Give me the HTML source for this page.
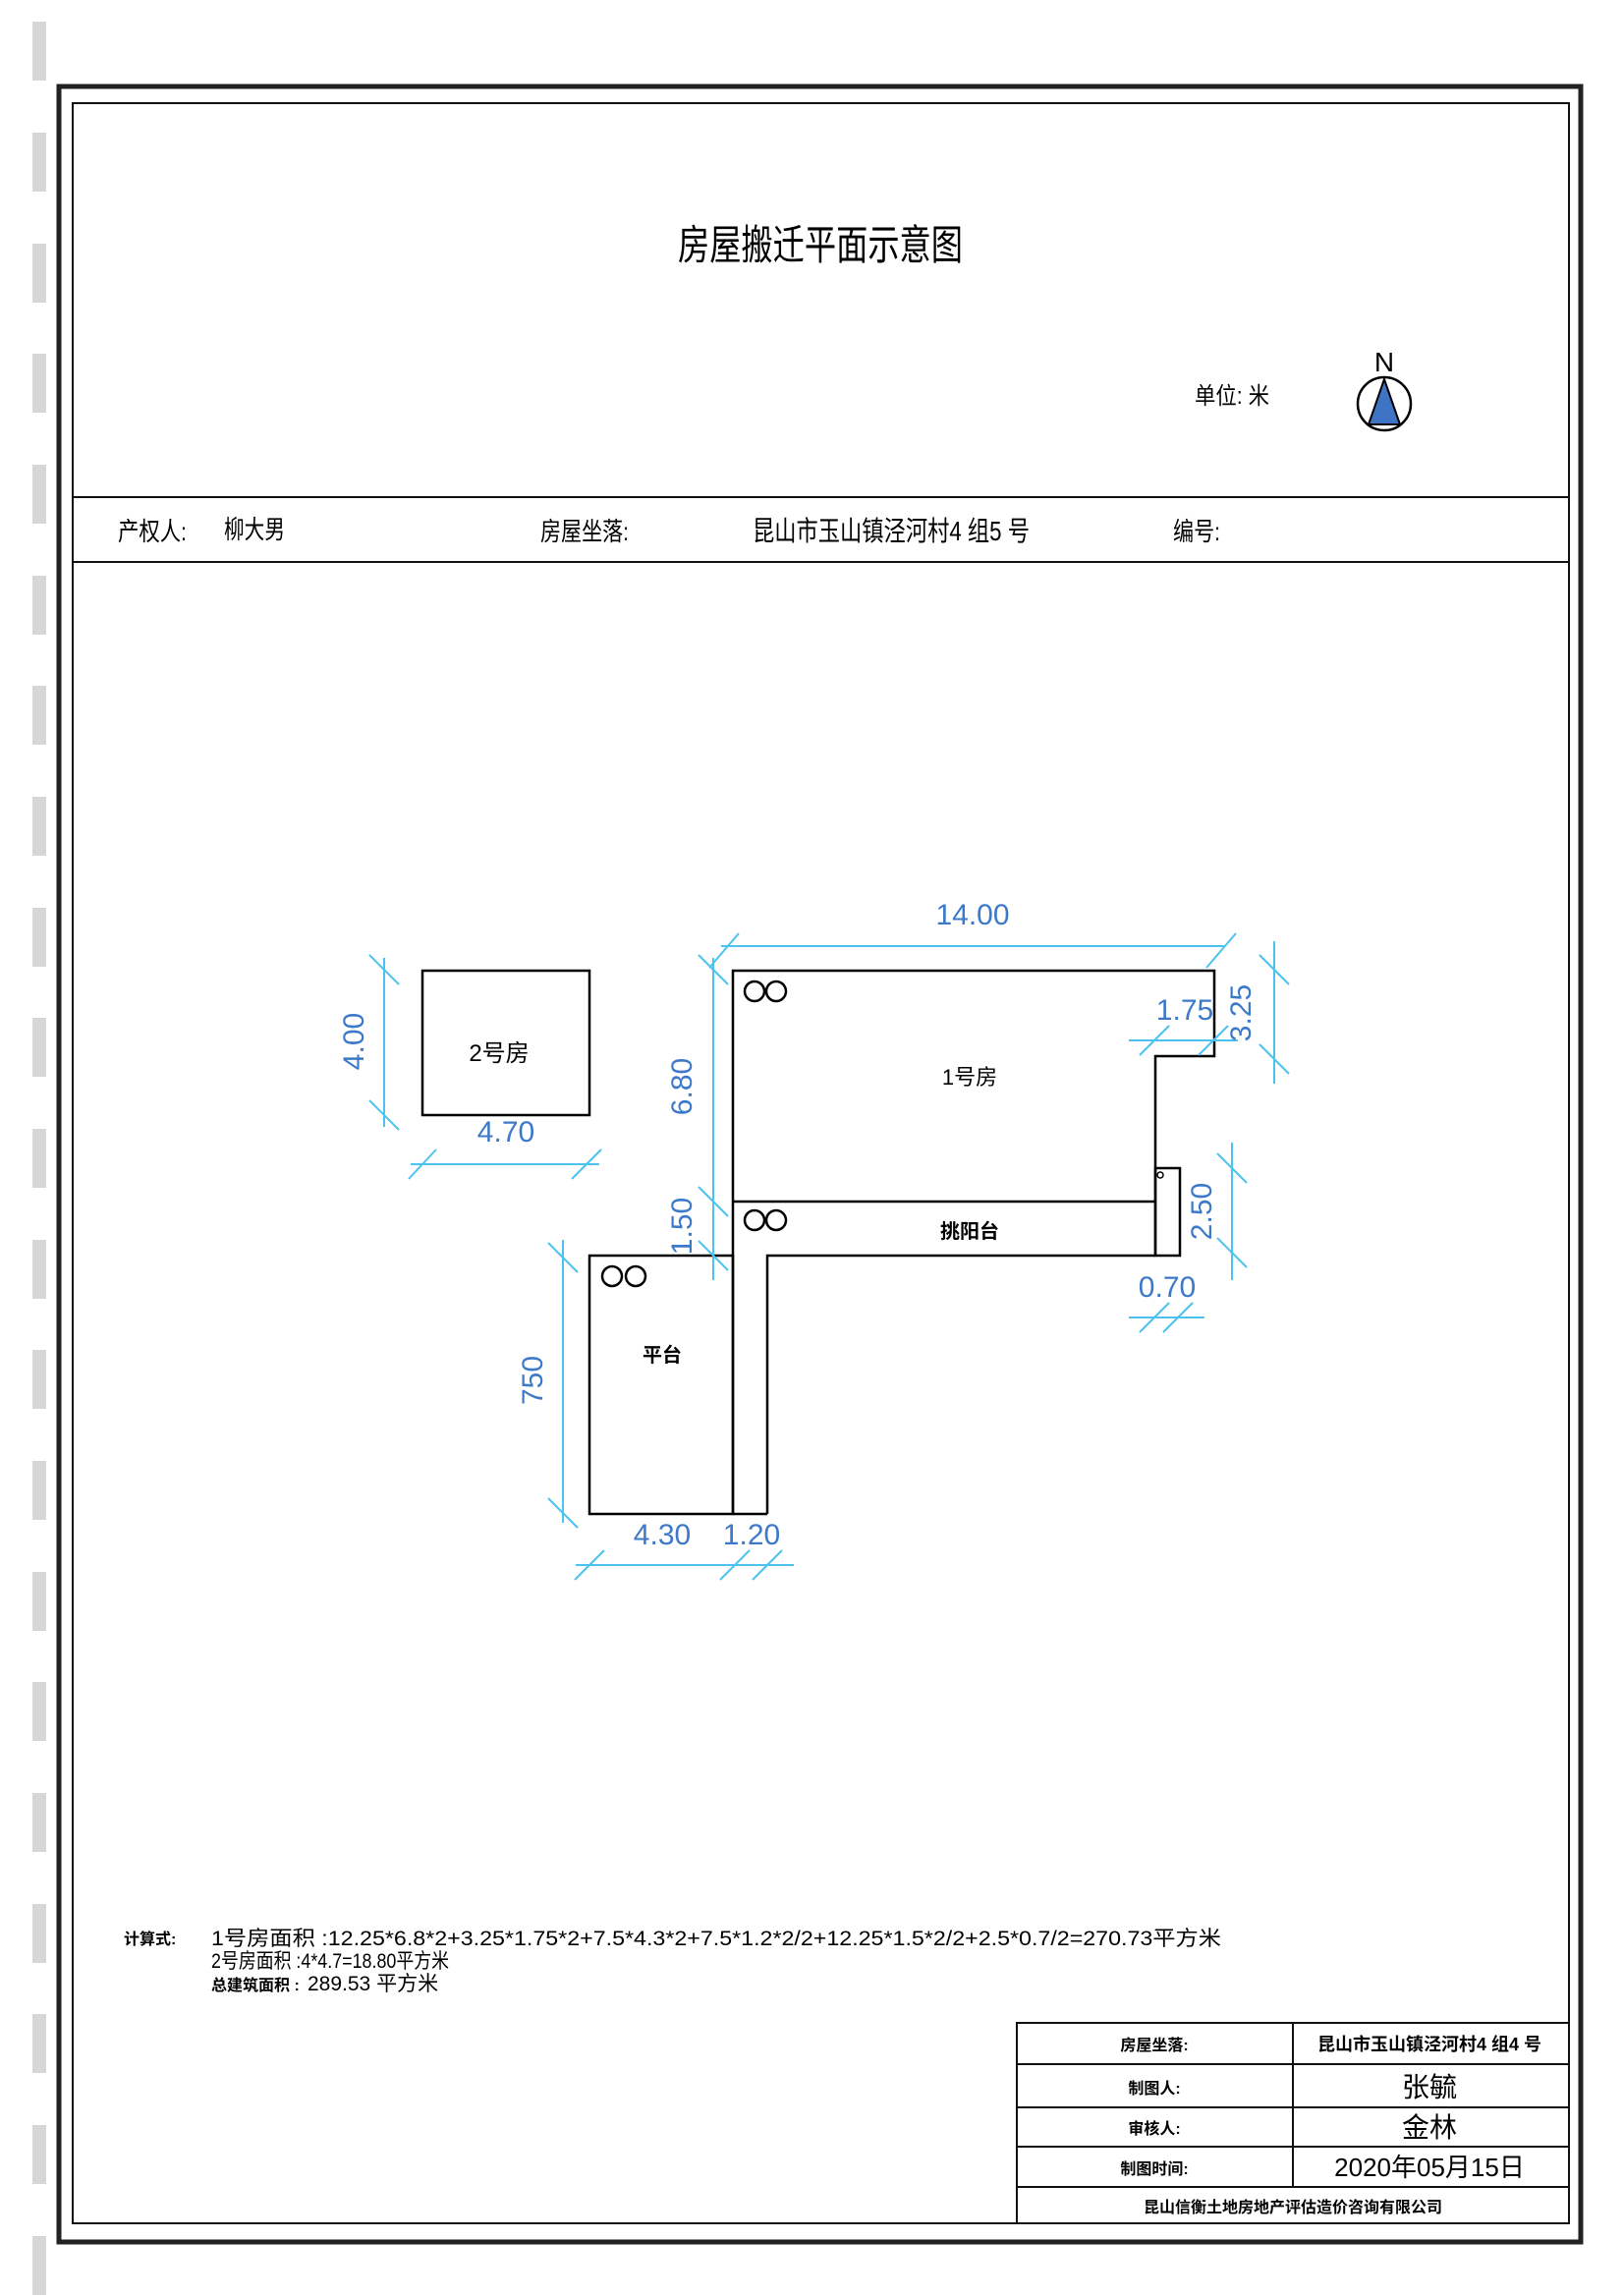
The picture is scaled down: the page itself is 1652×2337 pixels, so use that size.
<!DOCTYPE html>
<html><head><meta charset="utf-8"><style>
html,body{margin:0;padding:0;background:#fff;}
svg{display:block;}
.k{font-family:"Liberation Sans","Noto Sans CJK SC",sans-serif;fill:#000;}
.b{font-family:"Liberation Sans","Noto Sans CJK SC",sans-serif;fill:#3d79c9;font-size:30px;}
.d{stroke:#4cc3ee;stroke-width:2;fill:none;}
</style></head><body>
<svg width="1652" height="2337" viewBox="0 0 1652 2337" xmlns="http://www.w3.org/2000/svg">
<g fill="#d6d6d6">
<rect x="33" y="22" width="14" height="60"/><rect x="33" y="135" width="14" height="60"/><rect x="33" y="248" width="14" height="60"/><rect x="33" y="360" width="14" height="60"/><rect x="33" y="473" width="14" height="60"/><rect x="33" y="586" width="14" height="60"/><rect x="33" y="698" width="14" height="60"/><rect x="33" y="811" width="14" height="60"/><rect x="33" y="924" width="14" height="60"/><rect x="33" y="1036" width="14" height="60"/><rect x="33" y="1149" width="14" height="60"/><rect x="33" y="1262" width="14" height="60"/><rect x="33" y="1374" width="14" height="60"/><rect x="33" y="1487" width="14" height="60"/><rect x="33" y="1600" width="14" height="60"/><rect x="33" y="1712" width="14" height="60"/><rect x="33" y="1825" width="14" height="60"/><rect x="33" y="1938" width="14" height="60"/><rect x="33" y="2050" width="14" height="60"/><rect x="33" y="2163" width="14" height="60"/><rect x="33" y="2276" width="14" height="60"/>
</g>
<rect x="60" y="88" width="1549" height="2194" fill="none" stroke="#222" stroke-width="5"/>
<rect x="74" y="105" width="1523" height="2158" fill="none" stroke="#111" stroke-width="2"/>
<line x1="74" y1="506" x2="1597" y2="506" stroke="#111" stroke-width="2"/>
<line x1="74" y1="572" x2="1597" y2="572" stroke="#111" stroke-width="2"/>
<text class="k" x="835" y="264" font-size="42" text-anchor="middle" textLength="290" lengthAdjust="spacingAndGlyphs">房屋搬迁平面示意图</text>
<text class="k" x="1216" y="411" font-size="24" textLength="76" lengthAdjust="spacingAndGlyphs">单位: 米</text>
<circle cx="1409" cy="411" r="27" fill="#fff" stroke="#000" stroke-width="2.5"/>
<polygon points="1409,386 1393,432 1425,432" fill="#3f73c4" stroke="#000" stroke-width="2"/>
<text class="k" x="1409" y="378" font-size="28" text-anchor="middle">N</text>
<text class="k" x="120" y="550" font-size="26" textLength="70" lengthAdjust="spacingAndGlyphs">产权人:</text>
<text class="k" x="228" y="548" font-size="26" textLength="62" lengthAdjust="spacingAndGlyphs">柳大男</text>
<text class="k" x="550" y="550" font-size="26" textLength="90" lengthAdjust="spacingAndGlyphs">房屋坐落:</text>
<text class="k" x="766" y="550" font-size="28" textLength="282" lengthAdjust="spacingAndGlyphs">昆山市玉山镇泾河村4 组5 号</text>
<text class="k" x="1194" y="550" font-size="26" textLength="48" lengthAdjust="spacingAndGlyphs">编号:</text>

<g fill="none" stroke="#000" stroke-width="2.5">
<rect x="430" y="988" width="170" height="147"/>
<polyline points="746,1541 746,988 1236,988 1236,1075 1176,1075 1176,1278"/>
<rect x="1176" y="1189" width="25" height="89"/>
<line x1="746" y1="1223" x2="1176" y2="1223"/>
<polyline points="781,1541 781,1278 1176,1278"/>
<rect x="600" y="1278" width="146" height="263"/>
<line x1="746" y1="1541" x2="781" y2="1541"/>
<circle cx="768" cy="1009" r="10"/><circle cx="790" cy="1009" r="10"/>
<circle cx="768" cy="1242" r="10"/><circle cx="790" cy="1242" r="10"/>
<circle cx="623" cy="1299" r="10"/><circle cx="647" cy="1299" r="10"/>
<circle cx="1181" cy="1196" r="3" stroke-width="1.5"/>
</g>
<text class="k" x="508" y="1080" font-size="24" text-anchor="middle">2号房</text>
<text class="k" x="987" y="1104" font-size="22" text-anchor="middle">1号房</text>
<text class="k" x="987" y="1260" font-size="20" text-anchor="middle" font-weight="bold">挑阳台</text>
<text class="k" x="674" y="1386" font-size="20" text-anchor="middle" font-weight="bold">平台</text>

<g class="d">
<line x1="734" y1="963" x2="1246" y2="963"/><line x1="722" y1="985" x2="752" y2="950"/><line x1="1228" y1="985" x2="1258" y2="950"/>
<line x1="391" y1="975" x2="391" y2="1147"/><line x1="376" y1="972" x2="406" y2="1002"/><line x1="376" y1="1120" x2="406" y2="1150"/>
<line x1="418" y1="1185" x2="610" y2="1185"/><line x1="416" y1="1200" x2="444" y2="1170"/><line x1="582" y1="1200" x2="612" y2="1170"/>
<line x1="726" y1="975" x2="726" y2="1303"/><line x1="711" y1="972" x2="741" y2="1002"/><line x1="711" y1="1208" x2="741" y2="1238"/><line x1="711" y1="1263" x2="741" y2="1293"/>
<line x1="1297" y1="958" x2="1297" y2="1103"/><line x1="1282" y1="972" x2="1312" y2="1002"/><line x1="1282" y1="1063" x2="1312" y2="1093"/>
<line x1="1149" y1="1059" x2="1260" y2="1059"/><line x1="1160" y1="1074" x2="1190" y2="1044"/><line x1="1220" y1="1074" x2="1250" y2="1044"/>
<line x1="1254" y1="1163" x2="1254" y2="1303"/><line x1="1239" y1="1174" x2="1269" y2="1204"/><line x1="1239" y1="1260" x2="1269" y2="1290"/>
<line x1="1149" y1="1341" x2="1226" y2="1341"/><line x1="1160" y1="1356" x2="1190" y2="1326"/><line x1="1184" y1="1356" x2="1214" y2="1326"/>
<line x1="573" y1="1262" x2="573" y2="1550"/><line x1="558" y1="1265" x2="588" y2="1295"/><line x1="558" y1="1525" x2="588" y2="1555"/>
<line x1="586" y1="1593" x2="808" y2="1593"/><line x1="585" y1="1608" x2="615" y2="1578"/><line x1="733" y1="1608" x2="763" y2="1578"/><line x1="766" y1="1608" x2="796" y2="1578"/>
</g>
<text class="b" x="990" y="941" text-anchor="middle">14.00</text>
<text class="b" x="515" y="1162" text-anchor="middle">4.70</text>
<text class="b" x="1206" y="1038" text-anchor="middle">1.75</text>
<text class="b" x="1188" y="1320" text-anchor="middle">0.70</text>
<text class="b" x="674" y="1572" text-anchor="middle">4.30</text>
<text class="b" x="765" y="1572" text-anchor="middle">1.20</text>
<text class="b" transform="translate(370,1060) rotate(-90)" text-anchor="middle">4.00</text>
<text class="b" transform="translate(704,1106) rotate(-90)" text-anchor="middle">6.80</text>
<text class="b" transform="translate(704,1248) rotate(-90)" text-anchor="middle">1.50</text>
<text class="b" transform="translate(1273,1031) rotate(-90)" text-anchor="middle">3.25</text>
<text class="b" transform="translate(1233,1233) rotate(-90)" text-anchor="middle">2.50</text>
<text class="b" transform="translate(552,1405) rotate(-90)" text-anchor="middle">750</text>

<text class="k" x="126" y="1979" font-size="16" font-weight="bold">计算式:</text>
<text class="k" x="215" y="1980" font-size="21" textLength="1028" lengthAdjust="spacingAndGlyphs">1号房面积 :12.25*6.8*2+3.25*1.75*2+7.5*4.3*2+7.5*1.2*2/2+12.25*1.5*2/2+2.5*0.7/2=270.73平方米</text>
<text class="k" x="215" y="2003" font-size="21" textLength="242" lengthAdjust="spacingAndGlyphs">2号房面积 :4*4.7=18.80平方米</text>
<text class="k" x="215" y="2026" font-size="16" font-weight="bold">总建筑面积 :</text>
<text class="k" x="313" y="2026" font-size="21">289.53  平方米</text>

<g stroke="#111" stroke-width="2" fill="none">
<rect x="1035" y="2059" width="562" height="204"/>
<line x1="1035" y1="2101" x2="1597" y2="2101"/><line x1="1035" y1="2145" x2="1597" y2="2145"/><line x1="1035" y1="2185" x2="1597" y2="2185"/><line x1="1035" y1="2226" x2="1597" y2="2226"/>
<line x1="1316" y1="2059" x2="1316" y2="2226"/>
</g>
<text class="k" x="1175" y="2087" font-size="16" font-weight="bold" text-anchor="middle">房屋坐落:</text>
<text class="k" x="1455" y="2087" font-size="18" font-weight="bold" text-anchor="middle">昆山市玉山镇泾河村4 组4 号</text>
<text class="k" x="1175" y="2131" font-size="16" font-weight="bold" text-anchor="middle">制图人:</text>
<text class="k" x="1455" y="2134" font-size="28" text-anchor="middle">张毓</text>
<text class="k" x="1175" y="2172" font-size="16" font-weight="bold" text-anchor="middle">审核人:</text>
<text class="k" x="1455" y="2175" font-size="28" text-anchor="middle">金林</text>
<text class="k" x="1175" y="2213" font-size="16" font-weight="bold" text-anchor="middle">制图时间:</text>
<text class="k" x="1455" y="2215" font-size="26" text-anchor="middle">2020年05月15日</text>
<text class="k" x="1316" y="2252" font-size="16" font-weight="bold" text-anchor="middle">昆山信衡土地房地产评估造价咨询有限公司</text>
</svg>
</body></html>
